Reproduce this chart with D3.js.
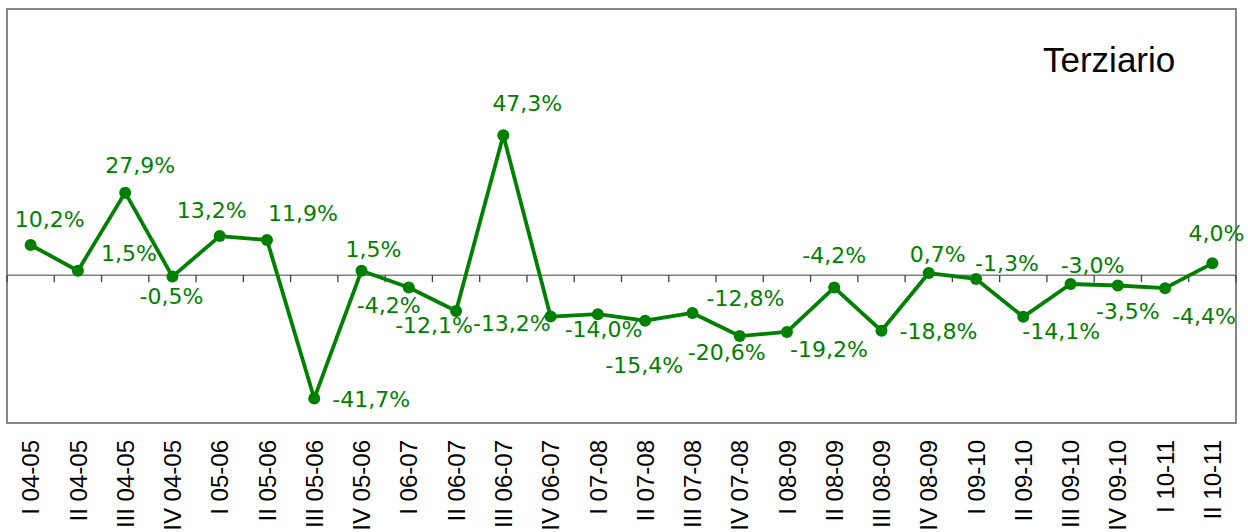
<!DOCTYPE html>
<html>
<head>
<meta charset="utf-8">
<script src="https://cdn.jsdelivr.net/npm/d3@7"></script>
<style>
  html, body { margin: 0; padding: 0; background: #fff; }
  svg { display: block; }
</style>
</head>
<body>
<svg id="chart" width="1248" height="532"></svg>
<script>
// ---- data ----
const categories = [
  "I 04-05", "II 04-05", "III 04-05", "IV 04-05",
  "I 05-06", "II 05-06", "III 05-06", "IV 05-06",
  "I 06-07", "II 06-07", "III 06-07", "IV 06-07",
  "I 07-08", "II 07-08", "III 07-08", "IV 07-08",
  "I 08-09", "II 08-09", "III 08-09", "IV 08-09",
  "I 09-10", "II 09-10", "III 09-10", "IV 09-10",
  "I 10-11", "II 10-11"
];
const values = [
  10.2, 1.5, 27.9, -0.5,
  13.2, 11.9, -41.7, 1.5,
  -4.2, -12.1, 47.3, -14.0,
  -13.2, -15.4, -12.8, -20.6,
  -19.2, -4.2, -18.8, 0.7,
  -1.3, -14.1, -3.0, -3.5,
  -4.4, 4.0
];
const title = "Terziario";
const yDomain = [-50, 90];

// data label offsets (label centre / baseline relative to the marker), in px
const labelOffsets = [
  [19, -18], [51, -10], [15, -20], [-1, 27],
  [-8, -18], [36, -19], [57, 9], [12, -14],
  [-20, 25], [-22, 22], [24, -24], [53, 20],
  [-86, 17], [-1, 52], [53, -7], [-13, 24],
  [42, 25], [0, -25], [57, 8], [9, -11],
  [31, -8], [38, 22], [22, -11], [10, 34],
  [39, 36], [4, -22]
];

// ---- layout ----
const svg = d3.select("#chart");
const plot = { left: 7, right: 1236, top: 9, bottom: 423 };
const green = "#008000";

const x = d3.scaleBand().domain(categories).range([plot.left, plot.right]).padding(0);
const cx = c => x(c) + x.bandwidth() / 2;
const y = d3.scaleLinear().domain(yDomain).range([plot.bottom, plot.top]);

const fmt = v => d3.format(".1f")(v).replace("\u2212", "-").replace(".", ",") + "%";

// frame
svg.append("rect")
  .attr("x", plot.left).attr("y", plot.top)
  .attr("width", plot.right - plot.left).attr("height", plot.bottom - plot.top)
  .attr("fill", "#fff").attr("stroke", "#858585").attr("stroke-width", 2);

// zero category axis line with tick marks between categories
const y0 = y(0);
svg.append("line")
  .attr("x1", plot.left).attr("x2", plot.right)
  .attr("y1", y0).attr("y2", y0)
  .attr("stroke", "#808080").attr("stroke-width", 1.5);

const tickPos = categories.map(c => x(c)).concat([x(categories[categories.length - 1]) + x.bandwidth()]);
svg.append("g").selectAll("line").data(tickPos).join("line")
  .attr("x1", d => d).attr("x2", d => d)
  .attr("y1", y0).attr("y2", y0 + 7)
  .attr("stroke", "#404040").attr("stroke-width", 1.3);

// category labels (rotated)
svg.append("g").selectAll("text").data(categories).join("text")
  .attr("transform", c => `translate(${cx(c)},440) rotate(-90)`)
  .attr("text-anchor", "end")
  .attr("dy", "0.36em")
  .attr("font-family", "'Liberation Sans', Arial, sans-serif")
  .attr("font-size", 24)
  .attr("fill", "#000")
  .text(c => c);

// line
const pts = categories.map((c, i) => ({ c, v: values[i], i }));
svg.append("path")
  .datum(pts)
  .attr("fill", "none")
  .attr("stroke", green)
  .attr("stroke-width", 3.8)
  .attr("stroke-linejoin", "round")
  .attr("d", d3.line().x(d => cx(d.c)).y(d => y(d.v)));

// markers
svg.append("g").selectAll("circle").data(pts).join("circle")
  .attr("cx", d => cx(d.c)).attr("cy", d => y(d.v))
  .attr("r", 6).attr("fill", green);

// data labels
svg.append("g").selectAll("text").data(pts).join("text")
  .attr("x", d => cx(d.c) + labelOffsets[d.i][0])
  .attr("y", d => y(d.v) + labelOffsets[d.i][1])
  .attr("text-anchor", "middle")
  .attr("font-family", "'DejaVu Sans', Verdana, sans-serif")
  .attr("font-size", 22)
  .attr("fill", green)
  .text(d => fmt(d.v));

// title
svg.append("text")
  .attr("x", 1043).attr("y", 72)
  .attr("font-family", "'Liberation Sans', Arial, sans-serif")
  .attr("font-size", 35)
  .attr("fill", "#000")
  .text(title);
</script>
</body>
</html>
